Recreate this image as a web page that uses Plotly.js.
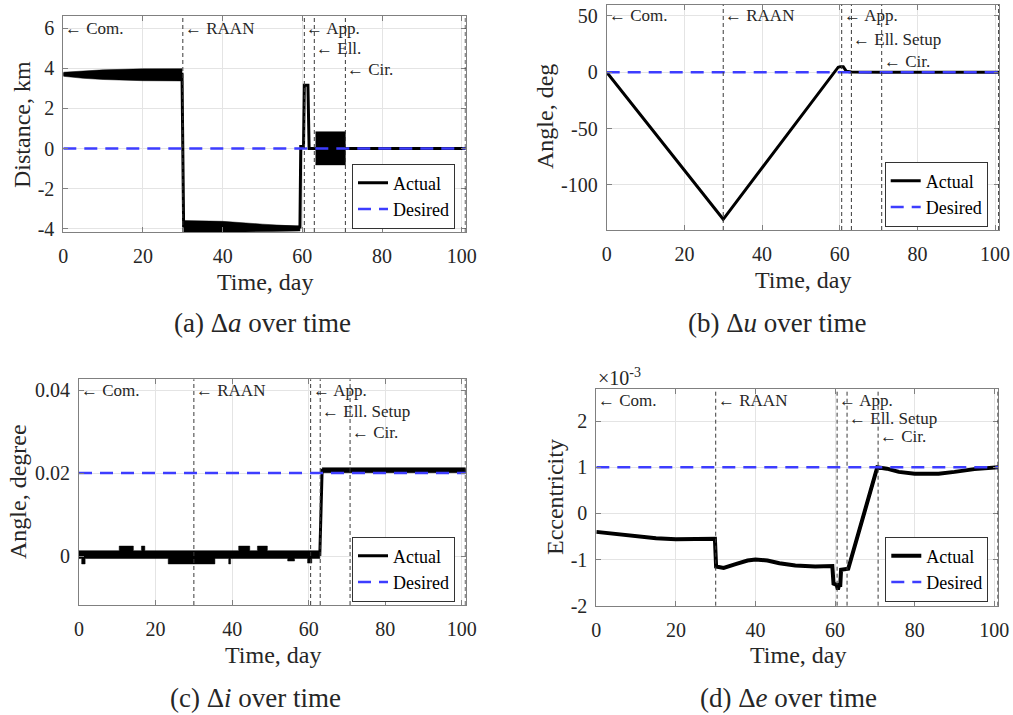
<!DOCTYPE html>
<html><head><meta charset="utf-8">
<script src="https://cdn.plot.ly/plotly-3.0.1.min.js"></script>
<style>body{margin:0;background:#fff}#chart{width:1013px;height:715px}</style>
</head><body><div id="chart"></div>
<script>
// ---------------- data ----------------
const phaseLines = [30, 60.5, 63, 70.8, 100.9];
const phaseLabelDays = [0, 30, 60.5, 63, 70.8];
const phaseLabelsA = ['← Com.', '← RAAN', '← App.', '← Ell.', '← Cir.'];
const phaseLabelsBCD = ['← Com.', '← RAAN', '← App.', '← Ell. Setup', '← Cir.'];
const phaseLabelRows = [0, 0, 0, 1, 2];
const xTicks = [0, 20, 40, 60, 80, 100];
const timeSpan = [0, 101];

// (a) delta a, km
const timeA = [0, 29.8, 30.2, 59.4, 59.6, 60.3, 60.5, 61.4, 61.7, 63.2, 70.8, 101];
const actualA = [3.7, 3.7, -3.85, -3.9, 0.1, 0.1, 3.15, 3.15, 0, 0, 0, 0];
const desiredA = [0, 0];
const bandA1Days = [0, 5, 10, 20, 29.8];
const bandA1Upper = [3.8, 3.86, 3.92, 3.97, 3.98];
const bandA1Lower = [3.6, 3.5, 3.44, 3.38, 3.37];
const bandA2Days = [30.2, 40, 50, 59.4];
const bandA2Upper = [-3.58, -3.62, -3.76, -3.87];
const bandA2Lower = [-4.16, -4.17, -4.14, -4.1];
const bandA3Days = [63.3, 70.8];
const bandA3Upper = [0.84, 0.84];
const bandA3Lower = [-0.81, -0.81];
const yTicksA = [-4, -2, 0, 2, 4, 6];

// (b) delta u, deg
const timeB = [0, 30, 59.6, 60.1, 60.9, 61.7, 63, 70.8, 101];
const actualB = [0, -130.5, 4.5, 5, 5, 0.9, 0.3, 0, 0];
const desiredB = [0, 0];
const yTicksB = [-100, -50, 0, 50];

// (c) delta i, degree
const timeC = [0, 62.9, 63.5, 101];
const actualC = [0.0004, 0.0004, 0.0207, 0.0207];
const desiredC = [0.02, 0.02];
const noiseUpperDays = [0, 10.5, 10.5, 14.2, 14.2, 16.3, 16.3, 17.2, 17.2, 41.7, 41.7, 44.6, 44.6, 46.6, 46.6, 49.2, 49.2, 62.9];
const noiseUpperVals = [0.0013, 0.0013, 0.0024, 0.0024, 0.0013, 0.0013, 0.0024, 0.0024, 0.0013, 0.0013, 0.0024, 0.0024, 0.0013, 0.0013, 0.0024, 0.0024, 0.0013, 0.0013];
const noiseLowerDays = [0, 0.7, 0.7, 1.6, 1.6, 23.3, 23.3, 35.5, 35.5, 39.1, 39.1, 39.6, 39.6, 54.5, 54.5, 56.3, 56.3, 59.7, 59.7, 60.8, 60.8, 62.9];
const noiseLowerVals = [-0.0006, -0.0006, -0.0019, -0.0019, -0.0006, -0.0006, -0.0019, -0.0019, -0.0006, -0.0006, -0.0019, -0.0019, -0.0006, -0.0006, -0.0012, -0.0012, -0.0006, -0.0006, -0.0017, -0.0017, -0.0006, -0.0006];
const bandC2Days = [63.5, 101];
const bandC2Upper = [0.0213, 0.0213];
const bandC2Lower = [0.0201, 0.0201];
const yTicksC = [0, 0.02, 0.04];
const yTickTextC = ['0', '0.02', '0.04'];

// (d) delta e, x10^-3
const timeD = [0, 5, 10, 15, 20, 25, 29.8, 30.1, 32, 35, 38, 40, 43, 46, 50, 55, 59.3, 59.6, 60.4, 60.7, 61.0, 61.3, 61.5, 63.3, 70.6, 73, 76, 80, 83, 86, 90, 95, 101];
const eccE3D = [-0.4, -0.45, -0.5, -0.54, -0.56, -0.56, -0.55, -1.15, -1.18, -1.1, -1.02, -1.0, -1.02, -1.08, -1.13, -1.15, -1.14, -1.52, -1.55, -1.65, -1.55, -1.55, -1.22, -1.2, 1.0, 0.97, 0.9, 0.86, 0.85, 0.86, 0.9, 0.96, 1.0];
const desiredD = [1, 1];
const yTicksD = [-2, -1, 0, 1, 2];

const captions = ['(a) Δ<i>a</i> over time', '(b) Δ<i>u</i> over time', '(c) Δ<i>i</i> over time', '(d) Δ<i>e</i> over time'];
const yTitles = ['Distance, km', 'Angle, deg', 'Angle, degree', 'Eccentricity'];
const xTitle = 'Time, day';

// ---------------- styling / layout ----------------
const FONT = 'Liberation Serif';
const TXT = '#262626';
const BLACK = '#000000';
const BLUE = '#3d3dff';

function bandPoly(days, up, lo) {
  return { x: days.concat(days.slice().reverse()), y: up.concat(lo.slice().reverse()) };
}
function bandPoly2(dUp, up, dLo, lo) {
  return { x: dUp.concat(dLo.slice().reverse()), y: up.concat(lo.slice().reverse()) };
}

const traces = [];
function addBand(p, xa, ya) {
  traces.push({ type: 'scatter', mode: 'lines', x: p.x, y: p.y, fill: 'toself', fillcolor: BLACK,
    line: { color: BLACK, width: 0.5 }, xaxis: xa, yaxis: ya, showlegend: false, hoverinfo: 'skip' });
}
function addPair(tx, ty, desired, xa, ya, lg, w) {
  traces.push({ type: 'scatter', mode: 'lines', x: tx, y: ty, name: 'Actual',
    line: { color: BLACK, width: w }, xaxis: xa, yaxis: ya, legend: lg });
  traces.push({ type: 'scatter', mode: 'lines', x: timeSpan, y: desired, name: 'Desired',
    line: { color: BLUE, width: 2.5, dash: '13px,8px' }, xaxis: xa, yaxis: ya, legend: lg });
}

// (a)
addBand(bandPoly(bandA1Days, bandA1Upper, bandA1Lower), 'x', 'y');
addBand(bandPoly(bandA2Days, bandA2Upper, bandA2Lower), 'x', 'y');
addBand(bandPoly(bandA3Days, bandA3Upper, bandA3Lower), 'x', 'y');
addPair(timeA, actualA, desiredA, 'x', 'y', 'legend', 3);
// (b)
addPair(timeB, actualB, desiredB, 'x2', 'y2', 'legend2', 3);
// (c)
addBand(bandPoly2(noiseUpperDays, noiseUpperVals, noiseLowerDays, noiseLowerVals), 'x3', 'y3');
addBand(bandPoly(bandC2Days, bandC2Upper, bandC2Lower), 'x3', 'y3');
addPair(timeC, actualC, desiredC, 'x3', 'y3', 'legend3', 3);
// (d)
addPair(timeD, eccE3D, desiredD, 'x4', 'y4', 'legend4', 4);

const axBase = {
  showline: true, linecolor: '#808080', linewidth: 1, mirror: 'ticks',
  ticks: 'inside', ticklen: 5, tickcolor: '#808080',
  showgrid: true, gridcolor: '#e4e4e4', gridwidth: 1, zeroline: false,
  tickfont: { family: FONT, size: 20, color: TXT }, fixedrange: true
};
function xAx(dom, anchor) {
  return Object.assign({}, axBase, { domain: dom, anchor: anchor, range: [0, 101],
    tickvals: xTicks, ticktext: xTicks.map(String), ticklabelstandoff: 6 });
}
function yAx(dom, anchor, range, tv, tt) {
  return Object.assign({}, axBase, { domain: dom, anchor: anchor, range: range,
    tickvals: tv, ticktext: tt || tv.map(String), ticklabelstandoff: 4 });
}

const W = 1013, H = 715;
const px = v => v / W, py = v => 1 - v / H;

const annotations = [];
const shapes = [];
const subplots = [
  { xa: 'x', ya: 'y', labels: phaseLabelsA, rowShift: [-12, -32, -53] },
  { xa: 'x2', ya: 'y2', labels: phaseLabelsBCD, rowShift: [-11, -35, -57] },
  { xa: 'x3', ya: 'y3', labels: phaseLabelsBCD, rowShift: [-11, -32, -53] },
  { xa: 'x4', ya: 'y4', labels: phaseLabelsBCD, rowShift: [-11, -29, -47] }
];
subplots.forEach(sp => {
  phaseLines.forEach(d => shapes.push({ type: 'line', xref: sp.xa, yref: sp.ya + ' domain',
    x0: d, x1: d, y0: 0, y1: 1, line: { color: '#3a3a3a', width: 1, dash: '4px,3px' } }));
  phaseLabelDays.forEach((d, i) => annotations.push({ xref: sp.xa, yref: sp.ya + ' domain',
    x: d, y: 1, xanchor: 'left', yanchor: 'middle', yshift: sp.rowShift[phaseLabelRows[i]],
    text: sp.labels[i], showarrow: false, font: { family: FONT, size: 17, color: TXT } }));
});

// axis titles & captions
const titleFont = { family: FONT, size: 24, color: TXT };
const capFont = { family: FONT, size: 27, color: TXT };
const yTitlePos = [[22, 125], [545, 117], [18, 492], [555, 497]];
const xTitlePos = [[265, 282], [803, 280], [273, 655], [798, 655]];
const capPos = [[262, 323], [777, 323], [255, 698], [788, 698]];
for (let i = 0; i < 4; i++) {
  annotations.push({ xref: 'paper', yref: 'paper', x: px(yTitlePos[i][0]), y: py(yTitlePos[i][1]),
    xanchor: 'center', yanchor: 'middle', textangle: -90, text: yTitles[i], showarrow: false, font: titleFont });
  annotations.push({ xref: 'paper', yref: 'paper', x: px(xTitlePos[i][0]), y: py(xTitlePos[i][1]),
    xanchor: 'center', yanchor: 'middle', text: xTitle, showarrow: false, font: titleFont });
  annotations.push({ xref: 'paper', yref: 'paper', x: px(capPos[i][0]), y: py(capPos[i][1]),
    xanchor: 'center', yanchor: 'middle', text: captions[i], showarrow: false, font: capFont });
}
annotations.push({ xref: 'paper', yref: 'paper', x: px(596), y: py(377), xanchor: 'left', yanchor: 'middle',
  text: '×10<sup>-3</sup>', showarrow: false, font: { family: FONT, size: 20, color: TXT } });

const legBase = { bgcolor: '#ffffff', bordercolor: '#333333', borderwidth: 1,
  font: { family: FONT, size: 18, color: BLACK }, xanchor: 'right', yanchor: 'middle',
  tracegroupgap: 0, itemwidth: 30 };

const layout = {
  width: W, height: H, margin: { l: 0, r: 0, t: 0, b: 0 },
  font: { family: FONT, color: TXT },
  paper_bgcolor: '#ffffff', plot_bgcolor: '#ffffff', showlegend: true,
  xaxis: xAx([px(63.3), px(465.7)], 'y'),
  yaxis: yAx([1 - 232 / H, 1 - 16 / H], 'x', [-4.15, 6.6], yTicksA),
  xaxis2: xAx([px(606.7), px(999)], 'y2'),
  yaxis2: yAx([1 - 230 / H, 1 - 4.7 / H], 'x2', [-140, 60], yTicksB),
  xaxis3: xAx([px(79), px(465.7)], 'y3'),
  yaxis3: yAx([1 - 605 / H, 1 - 379.3 / H], 'x3', [-0.0118, 0.0426], yTicksC, yTickTextC),
  xaxis4: xAx([px(596.3), px(998.3)], 'y4'),
  yaxis4: yAx([1 - 605.7 / H, 1 - 389.3 / H], 'x4', [-2, 2.69], yTicksD),
  legend: Object.assign({}, legBase, { x: px(455), y: py(196) }),
  legend2: Object.assign({}, legBase, { x: px(987.7), y: py(194) }),
  legend3: Object.assign({}, legBase, { x: px(455), y: py(569) }),
  legend4: Object.assign({}, legBase, { x: px(988.3), y: py(569) }),
  annotations: annotations, shapes: shapes
};

Plotly.newPlot('chart', traces, layout, { displayModeBar: false, staticPlot: true });
</script></body></html>
